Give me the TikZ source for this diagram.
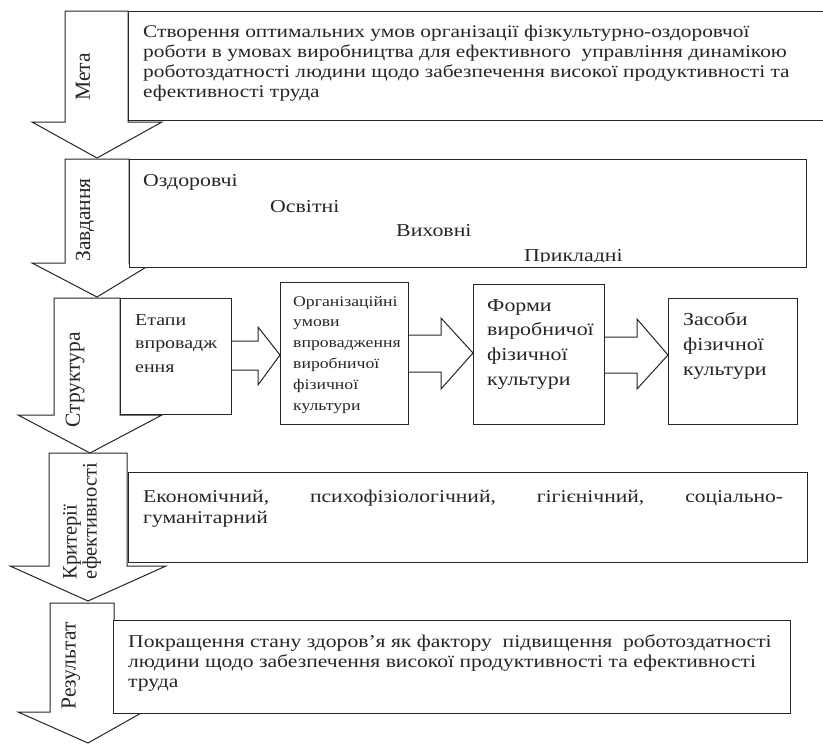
\documentclass[tikz,border=0pt]{standalone}
\usepackage{fontspec}
\setmainfont{Liberation Serif}
\newfontfamily\wf{Liberation Serif}[FakeStretch=1.2]
\tikzset{
  bigarrow/.style={draw=black!85, line width=1pt, fill=white, line join=miter},
  box/.style={draw=black!85, line width=1pt, fill=white},
  txt/.style={inner sep=0pt, anchor=north west, align=left, text=black!85},
  lbl/.style={inner sep=0pt, rotate=90, text=black!85, font=\fontsize{21.5}{23}\selectfont},
  blk/.style={draw=black!85, line width=1pt, fill=white, line join=miter}
}
\newcommand{\fsA}{\wf\fontsize{17.8}{20}\selectfont}
\newcommand{\fsR}{\wf\fontsize{18}{20}\selectfont}
\newcommand{\fsB}{\wf\fontsize{18.2}{23.5}\selectfont}
\newcommand{\fsE}{\wf\fontsize{16.6}{23.5}\selectfont}
\newcommand{\fsC}{\wf\fontsize{14.75}{20.8}\selectfont}
\begin{document}
\begin{tikzpicture}[x=1pt,y=-1pt]
\useasboundingbox (0,0) rectangle (823,744);
% big vertical arrows
\draw[bigarrow] (65,11) -- (128,11) -- (128,122) -- (162,122) -- (97,158) -- (32,122) -- (65,122) -- cycle;
\draw[bigarrow] (65,159) -- (129,159) -- (129,263) -- (153,263) -- (97,297) -- (32,263) -- (65,263) -- cycle;
\draw[bigarrow] (54,298) -- (120,298) -- (120,415) -- (162,415) -- (90,453) -- (18,415) -- (54,415) -- cycle;
\draw[bigarrow] (49,453) -- (127,453) -- (127,566) -- (166,566) -- (88,601) -- (10,566) -- (49,566) -- cycle;
\draw[bigarrow] (50,603) -- (114,603) -- (114,712) -- (143,712) -- (88,743) -- (18,712) -- (50,712) -- cycle;
% labels of the arrows
\node[lbl] (lmeta) at (83,77) {Мета};
\node[lbl] (lzavd) at (85,220) {Завдання};
\node[lbl] (lstr) at (75,380) {Структура};
\node[lbl, align=left, font=\fontsize{20.5}{20}\selectfont] (lkrit) at (82,521) {Критерії\\ефективності};
\node[lbl] (lres) at (71,666) {Результат};
% boxes
\draw[box] (128,11) rectangle (826,120);
\node[txt, font=\fsA] (t1) at (143,23) {\strut Створення оптимальних умов організації фізкультурно-оздоровчої\\роботи в умовах виробництва для ефективного\ \ управління динамікою\\роботоздатності людини щодо забезпечення високої продуктивності та\\ефективності труда};
\draw[box] (129,159) rectangle (806,267);
\node[txt, font=\fsB, anchor=base west] (z1) at (143,186) {Оздоровчі};
\node[txt, font=\fsB, anchor=base west] (z2) at (270,212) {Освітні};
\node[txt, font=\fsB, anchor=base west] (z3) at (396,236) {Виховні};
\begin{scope}
\clip (129,159) rectangle (806,261);
\node[txt, font=\fsB, anchor=base west] (z4) at (524,261) {Прикладні};
\end{scope}
% structure
\draw[blk] (231,341) -- (258,341) -- (258,327) -- (280,355) -- (258,385) -- (258,370) -- (231,370);
\draw[blk] (408,335) -- (441,335) -- (441,318) -- (473,353) -- (441,389) -- (441,372) -- (408,372);
\draw[blk] (604,337) -- (637,337) -- (637,319) -- (668,355) -- (637,389) -- (637,373) -- (604,373);
\draw[box] (120,298) rectangle (231,414);
\node[txt, font=\fsE] (s1) at (135,308.5) {\strut Етапи\\впровадж\\ення};
\draw[box] (280,282) rectangle (408,424);
\node[txt, font=\fsC] (s2) at (293,291.4) {\strut Організаційні\\умови\\впровадження\\виробничої\\фізичної\\культури};
\draw[box] (473,284) rectangle (604,424);
\node[txt, font=\wf\fontsize{18.25}{24.7}\selectfont] (s3) at (487,293.7) {\strut Форми\\виробничої\\фізичної\\культури};
\draw[box] (668,298) rectangle (797,424);
\node[txt, font=\wf\fontsize{18.3}{25}\selectfont] (s4) at (683,307.5) {\strut Засоби\\фізичної\\культури};
% criteria
\draw[box] (128,472) rectangle (807,562);
\node[txt, font=\wf\fontsize{18}{21.5}\selectfont, text width=640pt] (k1) at (143,486.9) {\strut\hbox to 640pt{Економічний,\hfill психофізіологічний,\hfill гігієнічний,\hfill соціально-}\\гуманітарний};
% result
\draw[box] (113,620) rectangle (790,713);
\node[txt, font=\fsR] (r1) at (128,633) {\strut Покращення стану здоров’я як фактору\ \ підвищення\ \ роботоздатності\\людини щодо забезпечення високої продуктивності та ефективності\\труда};
\end{tikzpicture}
\end{document}
